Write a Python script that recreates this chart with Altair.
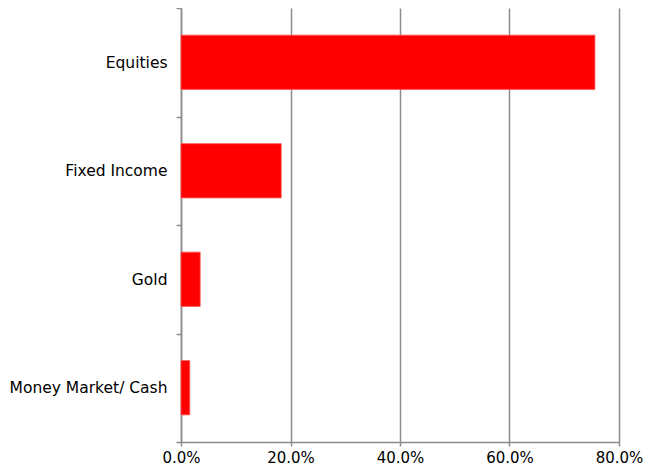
import altair as alt
import pandas as pd

categories = ["Equities", "Fixed Income", "Gold", "Money Market/ Cash"]
values = [0.756, 0.183, 0.035, 0.016]

df = pd.DataFrame({"category": categories, "value": values})

GRID = "#8c8c8c"
FONT = "DejaVu Sans"
FS = 15.5

chart = alt.Chart(df).mark_bar(
    color="#ff0000", stroke="#ff5050", strokeWidth=0.8,
    height=alt.RelativeBandSize(0.5)
).encode(
    y=alt.Y("category:N", sort=categories, title=None,
            scale=alt.Scale(paddingInner=0, paddingOuter=0),
            axis=alt.Axis(tickBand="extent", domainColor=GRID, domainWidth=1.5,
                          tickColor=GRID, tickWidth=1.5, tickSize=5,
                          labelFont=FONT, labelFontSize=FS, labelColor="#000000",
                          labelPadding=9, grid=False)),
    x=alt.X("value:Q", title=None,
            scale=alt.Scale(domain=[0, 0.8], nice=False),
            axis=alt.Axis(format=".1%", values=[0, 0.2, 0.4, 0.6, 0.8],
                          grid=True, gridColor=GRID, gridWidth=1.5,
                          domainColor=GRID, domainWidth=1.5,
                          tickColor=GRID, tickWidth=1.5, tickSize=4,
                          labelFont=FONT, labelFontSize=15, labelColor="#000000",
                          labelPadding=4, labelFlush=False)),
).properties(
    width=438, height=434,
    autosize=alt.AutoSizeParams(type="none"),
    padding={"left": 173, "top": 0, "right": 25, "bottom": 24},
).configure_view(stroke=None)

chart.save("out.html", embed_options={"renderer": "svg", "actions": False})
